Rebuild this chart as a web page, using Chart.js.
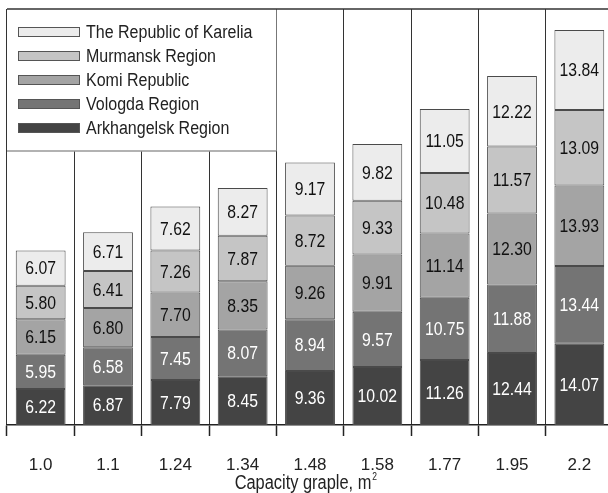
<!DOCTYPE html>
<html>
<head>
<meta charset="utf-8">
<script src="https://cdn.jsdelivr.net/npm/chart.js@4.4.1/dist/chart.umd.min.js"></script>
<style>
  html, body { margin: 0; padding: 0; background: #fff; overflow: hidden; }
  #wrap { width: 614px; height: 493px; }
</style>
</head>
<body>
<div id="wrap"><canvas id="grapleChart" width="614" height="493"></canvas></div>
<script>
const categories = ["1.0", "1.1", "1.24", "1.34", "1.48", "1.58", "1.77", "1.95", "2.2"];

const arkhangelsk = [6.22, 6.87, 7.79, 8.45, 9.36, 10.02, 11.26, 12.44, 14.07];
const vologda     = [5.95, 6.58, 7.45, 8.07, 8.94, 9.57, 10.75, 11.88, 13.44];
const komi        = [6.15, 6.80, 7.70, 8.35, 9.26, 9.91, 11.14, 12.30, 13.93];
const murmansk    = [5.80, 6.41, 7.26, 7.87, 8.72, 9.33, 10.48, 11.57, 13.09];
const karelia     = [6.07, 6.71, 7.62, 8.27, 9.17, 9.82, 11.05, 12.22, 13.84];

const seriesNames  = ["Arkhangelsk Region", "Vologda Region", "Komi Republic", "Murmansk Region", "The Republic of Karelia"];
const seriesColors = ["#444444", "#747474", "#a4a4a4", "#c5c5c5", "#ececec"];
const labelColors  = ["#ffffff", "#ffffff", "#111111", "#111111", "#111111"];

const axisTitle = "Capacity graple, m";
const axisTitleSup = "2";

const FONT = "'Liberation Sans', Arial, sans-serif";
Chart.defaults.font.family = FONT;
Chart.defaults.color = "#222";

// text in the original is tall and narrow, squeeze it a bit
function narrowText(ctx, text, x, y, squeeze) {
  ctx.save();
  ctx.translate(x, y);
  ctx.scale(squeeze, 1);
  ctx.fillText(text, 0, 0);
  ctx.restore();
}

/* =========================
   legend box + frame
========================= */
const framePlugin = {
  id: "framePlugin",
  beforeDatasetsDraw(chart) {
    const ctx = chart.ctx;
    const area = chart.chartArea;
    const x = chart.scales.x;
    const boxRight = (x.getPixelForTick(3) + x.getPixelForTick(4)) / 2;
    const boxBottom = 151;

    ctx.save();
    // cover the grid lines under the legend
    ctx.fillStyle = "#fff";
    ctx.fillRect(area.left + 1, area.top, boxRight - area.left - 1, boxBottom - area.top);

    ctx.strokeStyle = "#999";
    ctx.lineWidth = 1.5;
    ctx.beginPath();
    ctx.moveTo(area.left, boxBottom);
    ctx.lineTo(boxRight, boxBottom);
    ctx.stroke();

    // top frame line
    ctx.strokeStyle = "#333";
    ctx.lineWidth = 1.5;
    ctx.beginPath();
    ctx.moveTo(area.left, area.top);
    ctx.lineTo(area.right, area.top);
    ctx.stroke();

    // legend rows, top one first
    ctx.font = "18px " + FONT;
    ctx.textBaseline = "middle";
    ctx.textAlign = "left";
    for (let i = 0; i < seriesNames.length; i++) {
      const k = seriesNames.length - 1 - i;
      const y = 32 + i * 24;
      ctx.fillStyle = seriesColors[k];
      ctx.fillRect(18.5, y - 4.5, 61, 9);
      ctx.strokeStyle = "#555";
      ctx.lineWidth = 1;
      ctx.strokeRect(18.5, y - 4.5, 61, 9);
      ctx.fillStyle = "#222";
      narrowText(ctx, seriesNames[k], 86, y + 1, 0.89);
    }
    ctx.restore();
  }
};

/* =========================
   values inside segments + axis title
========================= */
const valuePlugin = {
  id: "valuePlugin",
  afterDatasetsDraw(chart) {
    const ctx = chart.ctx;
    ctx.save();
    ctx.font = "19px " + FONT;
    ctx.textAlign = "center";
    ctx.textBaseline = "middle";
    chart.data.datasets.forEach((ds, i) => {
      const meta = chart.getDatasetMeta(i);
      meta.data.forEach((bar, j) => {
        ctx.fillStyle = labelColors[i];
        narrowText(ctx, ds.data[j].toFixed(2), bar.x, (bar.y + bar.base) / 2 + 1, 0.83);
      });
    });
    ctx.restore();
  },
  afterDraw(chart) {
    const ctx = chart.ctx;
    ctx.save();
    ctx.fillStyle = "#222";
    ctx.textBaseline = "middle";
    ctx.textAlign = "left";
    ctx.font = "20px " + FONT;
    const w = ctx.measureText(axisTitle).width * 0.82;
    const startX = 305 - (w + 4) / 2;
    narrowText(ctx, axisTitle, startX, 483, 0.82);
    ctx.font = "10px " + FONT;
    narrowText(ctx, axisTitleSup, startX + w + 1, 477, 0.85);
    ctx.restore();
  }
};

const allSeries = [arkhangelsk, vologda, komi, murmansk, karelia];

new Chart(document.getElementById("grapleChart"), {
  type: "bar",
  data: {
    labels: categories,
    datasets: allSeries.map((vals, i) => ({
      label: seriesNames[i],
      data: vals,
      backgroundColor: seriesColors[i],
      borderColor: "#4a4a4a",
      borderWidth: 1,
      borderSkipped: false,
      barPercentage: 0.74,
      categoryPercentage: 1
    }))
  },
  options: {
    responsive: false,
    animation: false,
    layout: { padding: { left: 7, right: 1, top: 9, bottom: -2 } },
    scales: {
      x: {
        stacked: true,
        grid: {
          color: "#333",
          lineWidth: 1,
          tickLength: 11,
          tickColor: "#222",
          tickWidth: 1.5
        },
        border: { display: true, color: "#222", width: 1.5 },
        ticks: {
          font: { size: 17, lineHeight: 1 },
          color: "#222",
          padding: 21
        },
        title: { display: false }
      },
      y: {
        stacked: true,
        display: false,
        min: 0,
        max: 72
      }
    },
    plugins: {
      legend: { display: false },
      tooltip: { enabled: false }
    }
  },
  plugins: [framePlugin, valuePlugin]
});
</script>
</body>
</html>
